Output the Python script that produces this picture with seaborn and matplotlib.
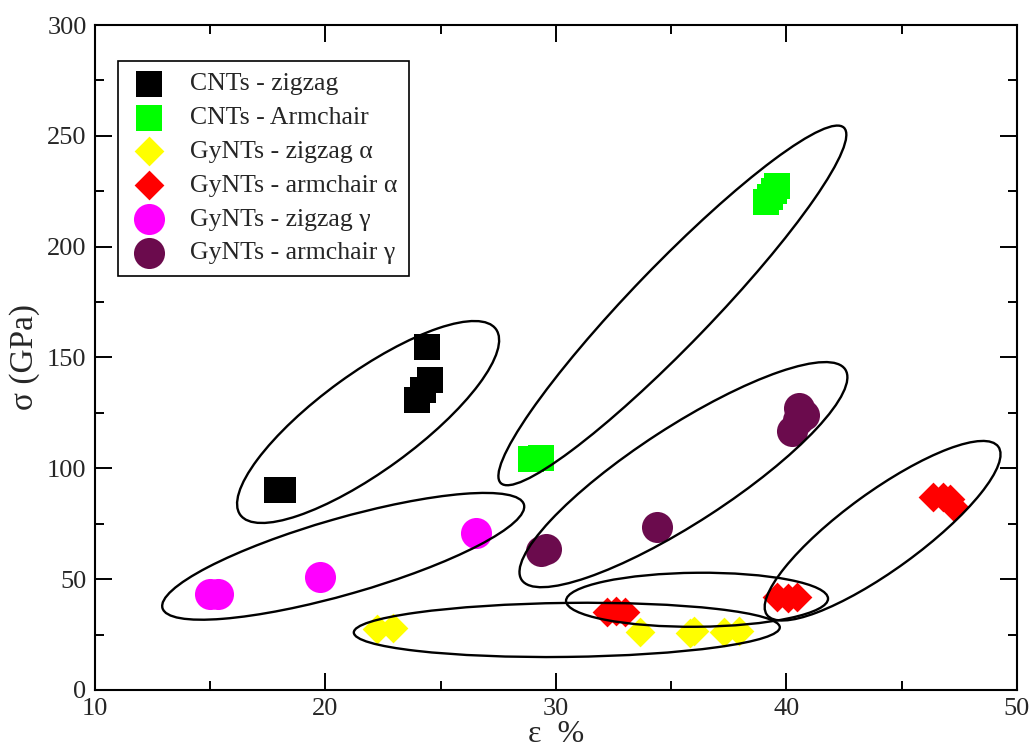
import matplotlib
matplotlib.use("Agg")
import matplotlib.pyplot as plt
import matplotlib.transforms as mtransforms
from matplotlib.patches import Ellipse
from matplotlib.ticker import MultipleLocator
import seaborn as sns

# strain (%) / stress (GPa), one pair of lists per family
cnt_zz_strain = [17.9, 18.15, 23.95, 24.25, 24.55, 24.4]
cnt_zz_stress = [90, 90, 131, 135.5, 140, 154.8]

cnt_ac_strain = [28.9, 29.35, 39.1, 39.3, 39.45, 39.6]
cnt_ac_stress = [104, 104.5, 220, 222.5, 225, 227.5]

gy_zz_a_strain = [22.25, 22.95, 33.65, 35.8, 36.0, 37.3, 37.95]
gy_zz_a_stress = [27.3, 28, 26, 25.5, 26.5, 26, 26.5]

gy_ac_a_strain = [32.2, 32.6, 33.0, 39.6, 40.05, 40.45, 46.35, 46.8, 47.1, 47.25]
gy_ac_a_stress = [35, 35.5, 35, 42, 41.5, 42, 87, 87, 86, 82.5]

gy_zz_g_strain = [15.0, 15.35, 19.75, 26.55]
gy_zz_g_stress = [43.2, 43.2, 51, 70.9]

gy_ac_g_strain = [29.35, 29.55, 34.4, 40.25, 40.5, 40.55, 40.75]
gy_ac_g_stress = [62.5, 63.5, 73.4, 117, 122, 127, 124]

labels = ["CNTs - zigzag", "CNTs - Armchair", "GyNTs - zigzag α",
          "GyNTs - armchair α", "GyNTs - zigzag γ", "GyNTs - armchair γ"]

# hand drawn group outlines: centre (strain, stress), half axes in pixels, tilt
outline_cx = [21.85, 35.05, 20.77, 35.53, 30.47, 36.12, 44.17]
outline_cy = [120.9, 173.5, 60.3, 97.15, 27.1, 40.7, 71.85]
outline_a = [158, 247, 188, 193, 213, 131, 143]
outline_b = [49, 40, 38, 48, 27, 27, 39]
outline_ang = [36, 46, 16, 33, 0.7, 0.5, 36]

sns.set_theme(style="ticks")
plt.rcParams['font.family'] = ['Liberation Serif', 'DejaVu Serif']

fig = plt.figure(figsize=(10.31, 7.49), dpi=100)
ax = fig.add_axes([0.0921, 0.0788, 0.8943, 0.8878])

series = [
    (cnt_zz_strain, cnt_zz_stress, "s", 360, "#000000"),
    (cnt_ac_strain, cnt_ac_stress, "s", 360, "#00ff00"),
    (gy_zz_a_strain, gy_zz_a_stress, "D", 230, "#ffff00"),
    (gy_ac_a_strain, gy_ac_a_stress, "D", 230, "#ff0000"),
    (gy_zz_g_strain, gy_zz_g_stress, "o", 500, "#ff00ff"),
    (gy_ac_g_strain, gy_ac_g_stress, "o", 500, "#6b0b4d"),
]
for (xs, ys, mk, size, col), lab in zip(series, labels):
    sns.scatterplot(x=xs, y=ys, marker=mk, s=size, color=col, linewidth=0,
                    label=lab, legend=False, ax=ax, zorder=2)

ax.set_xlim(10, 50)
ax.set_ylim(0, 300)

for cx, cy, a, b, ang in zip(outline_cx, outline_cy, outline_a, outline_b, outline_ang):
    tr = fig.dpi_scale_trans + mtransforms.ScaledTranslation(cx, cy, ax.transData)
    e = Ellipse((0, 0), 2 * a / 100, 2 * b / 100, angle=ang, transform=tr,
                fill=False, edgecolor="black", linewidth=1.7, zorder=3)
    ax.add_patch(e)

ax.xaxis.set_major_locator(MultipleLocator(10))
ax.xaxis.set_minor_locator(MultipleLocator(5))
ax.yaxis.set_major_locator(MultipleLocator(50))
ax.yaxis.set_minor_locator(MultipleLocator(25))
ax.tick_params(which="both", direction="in", top=True, right=True,
               width=1.4, color="black", labelsize=19, pad=6)
ax.tick_params(which="major", length=12.5)
ax.tick_params(which="minor", length=6.5)
for sp in ax.spines.values():
    sp.set_linewidth(1.5)
    sp.set_color("black")

ax.set_xlabel("ε  %", fontsize=23, labelpad=0)
ax.set_ylabel("σ (GPa)", fontsize=24, labelpad=5)

leg = ax.legend(loc="upper left", bbox_to_anchor=(0.025, 0.946), borderaxespad=0,
                frameon=True, fancybox=False, edgecolor="black", framealpha=1,
                fontsize=18.5, markerscale=1.0, labelspacing=0.42,
                handletextpad=0.85, borderpad=0.45, handlelength=1.5)
leg.get_frame().set_linewidth(1.2)

fig.savefig("out.png", dpi=100)
